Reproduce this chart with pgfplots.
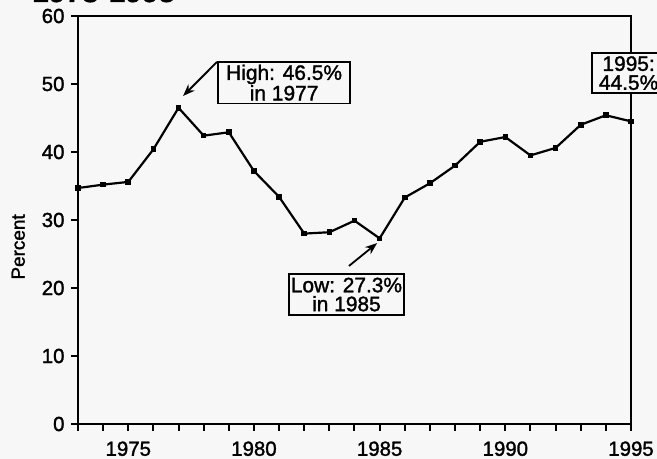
\documentclass[border=0pt]{standalone}
\usepackage{pgfplots}
\pgfplotsset{compat=1.18}
\usepackage{fontspec}
\setmainfont{Liberation Sans}[FakeBold=1.5]
\usetikzlibrary{arrows.meta}
\definecolor{bg}{RGB}{247,247,247}
\pgfplotstableread{
year value
1973 34.7
1974 35.2
1975 35.6
1976 40.4
1977 46.5
1978 42.4
1979 42.9
1980 37.2
1981 33.4
1982 28.0
1983 28.2
1984 29.9
1985 27.3
1986 33.3
1987 35.4
1988 38.0
1989 41.5
1990 42.2
1991 39.5
1992 40.6
1993 44.0
1994 45.4
1995 44.5
}\datatable
\begin{document}
\begin{tikzpicture}[x=1bp,y=1bp]
\fill[bg] (-78,-35) rectangle (579,424);
\begin{axis}[
  at={(0,0)}, anchor=south west,
  scale only axis, width=553bp, height=408bp,
  xmin=1973, xmax=1995, ymin=0, ymax=60,
  xtick={1975,1980,...,1995},
  minor xtick={1973,...,1995},
  ytick={0,10,...,60},
  tick align=outside, tick pos=left,
  major tick length=7bp, minor tick length=7bp,
  every tick/.style={black, line width=2pt},
  axis line style={black, line width=2.2pt},
  /pgf/number format/1000 sep={},
  /pgf/number format/assume math mode=true,
  tick label style={font=\fontsize{20.5}{22}\selectfont},
  xticklabel style={yshift=-7bp},
  yticklabel style={xshift=-3bp},
  ylabel={\fontsize{19}{20}\selectfont Percent},
  ylabel style={at={(axis description cs:-0.108,0.434)}, anchor=center},
  clip=false,
  axis background/.style={fill=bg},
]
\addplot[black, line width=2.2pt, mark=square*, mark size=1.7pt] table[x=year,y=value] {\datatable};
\node[draw=black, line width=1.8pt, fill=bg, align=center, inner xsep=8bp, inner ysep=3bp,
  font=\fontsize{21}{19}\selectfont] at (axis cs:1981.2,50.2) {High: 46.5\%\\in 1977};
\draw[line width=1.8pt, -{Stealth[length=12bp,width=9bp]}] (axis cs:1978.53,53.24) -- (axis cs:1977.18,48.24);
\node[draw=black, line width=1.8pt, fill=bg, align=center, inner xsep=2bp, inner ysep=4bp,
  font=\fontsize{21}{19}\selectfont] at (axis cs:1983.68,19.04) {Low: 27.3\%\\in 1985};
\draw[line width=1.8pt, -{Stealth[length=12bp,width=9bp]}] (axis cs:1983.78,23.24) -- (axis cs:1984.9,26.6);
\node[draw=black, line width=1.8pt, fill=bg, align=center, inner xsep=7bp, inner ysep=3bp, anchor=west,
  font=\fontsize{21}{19}\selectfont] at (axis cs:1993.41,51.6) {1995:\\44.5\%};
\end{axis}
\node[anchor=base west, inner sep=0pt, font=\bfseries\fontsize{30}{32}\selectfont] at (-46,422) {1973-1995};
\pgfresetboundingbox
\path[use as bounding box] (-78,-35) rectangle (579,424);
\end{tikzpicture}
\end{document}
